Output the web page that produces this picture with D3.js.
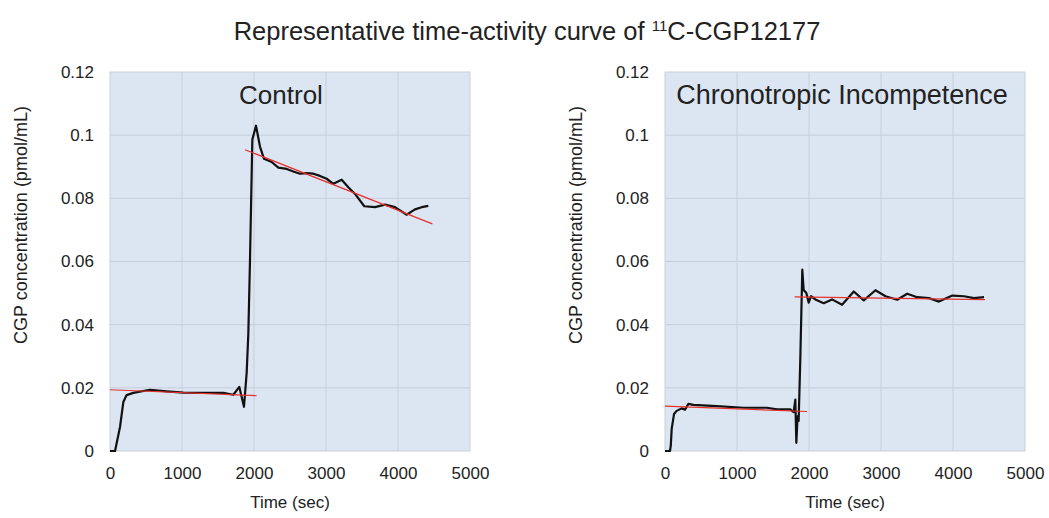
<!DOCTYPE html>
<html>
<head>
<meta charset="utf-8">
<script src="https://cdn.jsdelivr.net/npm/d3@7"></script>
<style>
  body { margin: 0; background: #fff; }
  svg text { font-family: Arial, "Liberation Sans", sans-serif; fill: #222; }
</style>
</head>
<body>
<svg id="chart" width="1049" height="518"></svg>
<script>
// ---- data ----
const xTicks = [0, 1000, 2000, 3000, 4000, 5000];
const yTicks = [0, 0.02, 0.04, 0.06, 0.08, 0.1, 0.12];
const yTickLabels = ["0", "0.02", "0.04", "0.06", "0.08", "0.1", "0.12"];

// Control
const controlTime = [0, 70, 139, 185, 231, 324, 555, 787, 1018, 1250, 1574, 1713, 1796, 1861, 1898, 1921, 1944, 1977, 2028, 2083, 2139, 2245, 2338, 2454, 2546, 2639, 2731, 2824, 2917, 3009, 3102, 3218, 3310, 3403, 3532, 3681, 3819, 3958, 4028, 4120, 4236, 4329, 4421];
const controlConc = [0, 0, 0.0076, 0.0155, 0.0177, 0.0184, 0.0194, 0.0189, 0.0185, 0.0184, 0.0184, 0.0178, 0.0203, 0.014, 0.0247, 0.037, 0.060, 0.0986, 0.103, 0.0964, 0.0925, 0.0915, 0.0897, 0.0893, 0.0885, 0.0878, 0.088, 0.0878, 0.0871, 0.0862, 0.0846, 0.0859, 0.0835, 0.0814, 0.0775, 0.0772, 0.078, 0.0772, 0.0762, 0.0748, 0.0765, 0.0772, 0.0776];
const controlFitEarlyTime = [0, 2037];
const controlFitEarlyConc = [0.0194, 0.0175];
const controlFitLateTime = [1875, 4477];
const controlFitLateConc = [0.0954, 0.0719];

// Chronotropic Incompetence
const ciTime = [0, 69, 80, 93, 125, 162, 231, 278, 324, 394, 719, 1090, 1415, 1555, 1740, 1787, 1810, 1824, 1842, 1856, 1879, 1907, 1926, 1963, 1995, 2028, 2088, 2204, 2320, 2459, 2622, 2761, 2923, 3063, 3225, 3364, 3503, 3666, 3805, 3991, 4153, 4292, 4431];
const ciConc = [0, 0, 0.0016, 0.007, 0.0117, 0.0127, 0.0135, 0.0131, 0.0149, 0.0146, 0.0142, 0.0137, 0.0137, 0.0132, 0.0132, 0.0123, 0.0163, 0.0026, 0.011, 0.0095, 0.029, 0.0574, 0.051, 0.050, 0.047, 0.049, 0.048, 0.0468, 0.048, 0.0463, 0.0505, 0.0477, 0.0509, 0.049, 0.0479, 0.0498, 0.0487, 0.0484, 0.0473, 0.0492, 0.049, 0.0484, 0.0487];
const ciFitEarlyTime = [0, 1972];
const ciFitEarlyConc = [0.0142, 0.0125];
const ciFitLateTime = [1800, 4445];
const ciFitLateConc = [0.0488, 0.0479];

const panels = [
  { title: "Control", left: 110, titleX: 281, titleSize: 26, time: controlTime, conc: controlConc,
    fits: [[controlFitEarlyTime, controlFitEarlyConc], [controlFitLateTime, controlFitLateConc]] },
  { title: "Chronotropic Incompetence", left: 665, titleX: 842, titleSize: 27, time: ciTime, conc: ciConc,
    fits: [[ciFitEarlyTime, ciFitEarlyConc], [ciFitLateTime, ciFitLateConc]] }
];

const svg = d3.select("#chart");
const plotTop = 72, plotBottom = 451, plotW = 360;
const font = "Arial, 'Liberation Sans', sans-serif";

// main title with superscript
const title = svg.append("text")
  .attr("x", 527).attr("y", 40)
  .attr("text-anchor", "middle")
  .style("font-size", "25.5px");
title.append("tspan").text("Representative time-activity curve of ");
title.append("tspan").attr("dy", -9).style("font-size", "15px").text("11");
title.append("tspan").attr("dy", 9).text("C-CGP12177");

panels.forEach(function(p) {
  const x = d3.scaleLinear().domain([0, 5000]).range([p.left, p.left + plotW]);
  const y = d3.scaleLinear().domain([0, 0.12]).range([plotBottom, plotTop]);
  const g = svg.append("g");

  g.append("rect")
    .attr("x", x(0)).attr("y", y(0.12))
    .attr("width", x(5000) - x(0)).attr("height", y(0) - y(0.12))
    .style("fill", "#dce6f2");

  // grid lines
  g.selectAll(".vgrid").data(xTicks.slice(1, -1)).enter().append("line")
    .attr("x1", d => x(d)).attr("x2", d => x(d))
    .attr("y1", y(0)).attr("y2", y(0.12))
    .style("stroke", "#c6ced9").style("stroke-width", 1);
  g.selectAll(".hgrid").data(yTicks.slice(1, -1)).enter().append("line")
    .attr("x1", x(0)).attr("x2", x(5000))
    .attr("y1", d => y(d)).attr("y2", d => y(d))
    .style("stroke", "#c6ced9").style("stroke-width", 1);

  g.append("rect")
    .attr("x", x(0)).attr("y", y(0.12))
    .attr("width", x(5000) - x(0)).attr("height", y(0) - y(0.12))
    .style("fill", "none").style("stroke", "#c9d0d9");

  // axes (labels only, like the original)
  const xAxis = d3.axisBottom(x).tickValues(xTicks).tickFormat(d3.format("d")).tickSize(0).tickPadding(16);
  g.append("g").attr("transform", `translate(0,${plotBottom})`).call(xAxis)
    .call(a => a.select(".domain").remove())
    .selectAll("text").style("font-size", "17px").style("font-family", font).attr("fill", "#222");

  const yAxis = d3.axisLeft(y).tickValues(yTicks).tickFormat((d, i) => yTickLabels[i]).tickSize(0).tickPadding(16);
  g.append("g").attr("transform", `translate(${p.left},0)`).call(yAxis)
    .call(a => a.select(".domain").remove())
    .selectAll("text").style("font-size", "17px").style("font-family", font).attr("fill", "#222");

  g.append("text")
    .attr("x", p.left + plotW / 2).attr("y", 508)
    .attr("text-anchor", "middle").style("font-size", "17px")
    .text("Time (sec)");

  g.append("text")
    .attr("transform", `translate(${p.left - 83},225) rotate(-90)`)
    .attr("text-anchor", "middle").style("font-size", "18px")
    .text("CGP concentration (pmol/mL)");

  g.append("text")
    .attr("x", p.titleX).attr("y", 104)
    .attr("text-anchor", "middle").style("font-size", p.titleSize + "px")
    .text(p.title);

  const line = d3.line().x(d => x(d[0])).y(d => y(d[1]));

  g.append("path")
    .datum(p.time.map((t, i) => [t, p.conc[i]]))
    .attr("d", line)
    .style("fill", "none").style("stroke", "#111")
    .style("stroke-width", 2.2).style("stroke-linejoin", "round");

  p.fits.forEach(function(f) {
    g.append("path")
      .datum(f[0].map((t, i) => [t, f[1][i]]))
      .attr("d", line)
      .style("fill", "none").style("stroke", "#e8302c").style("stroke-width", 1.2);
  });
});
</script>
</body>
</html>
